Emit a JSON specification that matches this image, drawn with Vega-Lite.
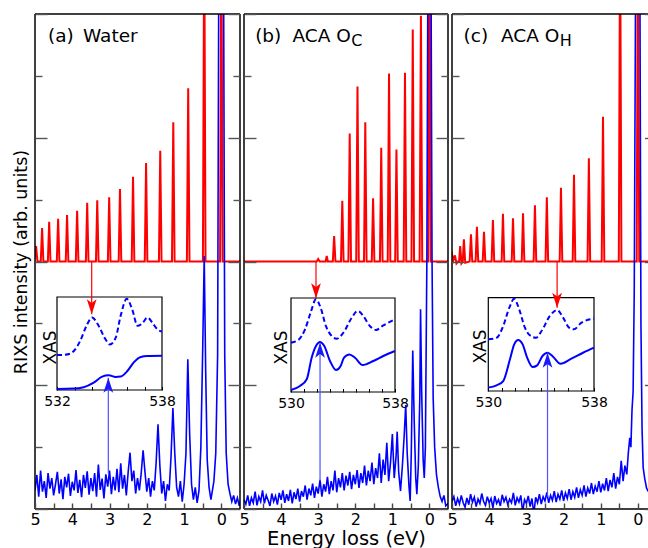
{
"$schema": "https://vega.github.io/schema/vega-lite/v6.json",
"padding": {"left": 12, "top": 13, "right": 0, "bottom": 0},
"background": "white",
"config": {"view": {"stroke": null}, "font": "DejaVu Sans", "axis": {"labelOverlap": false, "labelBound": false, "labelSeparation": 0, "labelFlush": false, "tickCount": 30}},
"datasets": {
"redA": [{"e":5.02,"v":4.0},{"e":4.97,"v":4.25},{"e":4.935,"v":4.0},{"e":4.845,"v":4.0},{"e":4.81,"v":4.54},{"e":4.775,"v":4.0},{"e":4.655,"v":4.0},{"e":4.62,"v":4.64},{"e":4.585,"v":4.0},{"e":4.415,"v":4.0},{"e":4.38,"v":4.69},{"e":4.345,"v":4.0},{"e":4.175,"v":4.0},{"e":4.14,"v":4.75},{"e":4.105,"v":4.0},{"e":3.905,"v":4.0},{"e":3.87,"v":4.82},{"e":3.835,"v":4.0},{"e":3.635,"v":4.0},{"e":3.60,"v":4.95},{"e":3.565,"v":4.0},{"e":3.365,"v":4.0},{"e":3.33,"v":4.99},{"e":3.295,"v":4.0},{"e":3.045,"v":4.0},{"e":3.01,"v":5.04},{"e":2.975,"v":4.0},{"e":2.755,"v":4.0},{"e":2.72,"v":5.17},{"e":2.685,"v":4.0},{"e":2.405,"v":4.0},{"e":2.37,"v":5.37},{"e":2.335,"v":4.0},{"e":2.055,"v":4.0},{"e":2.02,"v":5.59},{"e":1.985,"v":4.0},{"e":1.675,"v":4.0},{"e":1.64,"v":5.79},{"e":1.605,"v":4.0},{"e":1.325,"v":4.0},{"e":1.29,"v":6.25},{"e":1.255,"v":4.0},{"e":0.925,"v":4.0},{"e":0.89,"v":6.80},{"e":0.855,"v":4.0},{"e":0.495,"v":4.0},{"e":0.46,"v":9.5},{"e":0.425,"v":4.0},{"e":0.035,"v":4.0},{"e":0.0,"v":9.5},{"e":-0.035,"v":4.0},{"e":-0.6,"v":4.0}],
"redB": [{"e":5.02,"v":4.0},{"e":3.04,"v":4.0},{"e":3.0,"v":4.04},{"e":2.96,"v":4.0},{"e":2.80,"v":4.0},{"e":2.77,"v":4.09},{"e":2.74,"v":4.0},{"e":2.605,"v":4.0},{"e":2.57,"v":4.41},{"e":2.535,"v":4.0},{"e":2.385,"v":4.0},{"e":2.35,"v":4.98},{"e":2.315,"v":4.0},{"e":2.185,"v":4.0},{"e":2.15,"v":6.07},{"e":2.115,"v":4.0},{"e":1.975,"v":4.0},{"e":1.94,"v":6.83},{"e":1.905,"v":4.0},{"e":1.765,"v":4.0},{"e":1.73,"v":6.25},{"e":1.695,"v":4.0},{"e":1.555,"v":4.0},{"e":1.52,"v":5.02},{"e":1.485,"v":4.0},{"e":1.335,"v":4.0},{"e":1.30,"v":5.84},{"e":1.265,"v":4.0},{"e":1.125,"v":4.0},{"e":1.09,"v":7.04},{"e":1.055,"v":4.0},{"e":0.925,"v":4.0},{"e":0.89,"v":5.81},{"e":0.855,"v":4.0},{"e":0.695,"v":4.0},{"e":0.66,"v":7.05},{"e":0.625,"v":4.0},{"e":0.485,"v":4.0},{"e":0.45,"v":7.75},{"e":0.415,"v":4.0},{"e":0.265,"v":4.0},{"e":0.23,"v":7.97},{"e":0.195,"v":4.0},{"e":0.035,"v":4.0},{"e":0.0,"v":9.5},{"e":-0.035,"v":4.0},{"e":-0.6,"v":4.0}],
"redC": [{"e":5.02,"v":4.08},{"e":5.0,"v":4.12},{"e":4.96,"v":4.02},{"e":4.92,"v":4.1},{"e":4.88,"v":3.97},{"e":4.84,"v":4.0},{"e":4.81,"v":4.0},{"e":4.78,"v":4.25},{"e":4.745,"v":3.97},{"e":4.71,"v":4.0},{"e":4.68,"v":4.36},{"e":4.645,"v":3.98},{"e":4.525,"v":4.0},{"e":4.49,"v":4.44},{"e":4.455,"v":4.0},{"e":4.365,"v":4.0},{"e":4.33,"v":4.56},{"e":4.295,"v":4.0},{"e":4.175,"v":4.0},{"e":4.14,"v":4.48},{"e":4.105,"v":4.0},{"e":3.935,"v":4.0},{"e":3.90,"v":4.67},{"e":3.865,"v":4.0},{"e":3.665,"v":4.0},{"e":3.63,"v":4.77},{"e":3.595,"v":4.0},{"e":3.395,"v":4.0},{"e":3.36,"v":4.70},{"e":3.325,"v":4.0},{"e":3.125,"v":4.0},{"e":3.09,"v":4.78},{"e":3.055,"v":4.0},{"e":2.805,"v":4.0},{"e":2.77,"v":4.91},{"e":2.735,"v":4.0},{"e":2.485,"v":4.0},{"e":2.45,"v":5.04},{"e":2.415,"v":4.0},{"e":2.105,"v":4.0},{"e":2.07,"v":5.19},{"e":2.035,"v":4.0},{"e":1.755,"v":4.0},{"e":1.72,"v":5.40},{"e":1.685,"v":4.0},{"e":1.355,"v":4.0},{"e":1.32,"v":5.67},{"e":1.285,"v":4.0},{"e":0.975,"v":4.0},{"e":0.94,"v":6.34},{"e":0.905,"v":4.0},{"e":0.515,"v":4.0},{"e":0.48,"v":9.5},{"e":0.445,"v":4.0},{"e":0.035,"v":4.0},{"e":0.0,"v":9.5},{"e":-0.035,"v":4.0},{"e":-0.6,"v":4.0}],
"blueA": [{"e":5.0,"v":0.30},{"e":4.95,"v":0.55},{"e":4.9,"v":0.20},{"e":4.85,"v":0.62},{"e":4.8,"v":0.28},{"e":4.75,"v":0.45},{"e":4.7,"v":0.18},{"e":4.65,"v":0.58},{"e":4.6,"v":0.33},{"e":4.55,"v":0.50},{"e":4.5,"v":0.22},{"e":4.45,"v":0.40},{"e":4.4,"v":0.60},{"e":4.35,"v":0.25},{"e":4.3,"v":0.48},{"e":4.25,"v":0.16},{"e":4.2,"v":0.52},{"e":4.15,"v":0.35},{"e":4.1,"v":0.57},{"e":4.05,"v":0.21},{"e":4.0,"v":0.44},{"e":3.95,"v":0.30},{"e":3.9,"v":0.63},{"e":3.85,"v":0.26},{"e":3.8,"v":0.47},{"e":3.75,"v":0.19},{"e":3.7,"v":0.55},{"e":3.65,"v":0.34},{"e":3.6,"v":0.61},{"e":3.55,"v":0.23},{"e":3.5,"v":0.50},{"e":3.45,"v":0.29},{"e":3.4,"v":0.58},{"e":3.35,"v":0.20},{"e":3.3,"v":0.72},{"e":3.25,"v":0.31},{"e":3.2,"v":0.49},{"e":3.15,"v":0.17},{"e":3.1,"v":0.56},{"e":3.05,"v":0.36},{"e":3.0,"v":0.62},{"e":2.95,"v":0.24},{"e":2.9,"v":0.52},{"e":2.85,"v":0.30},{"e":2.8,"v":0.65},{"e":2.75,"v":0.27},{"e":2.7,"v":0.74},{"e":2.65,"v":0.33},{"e":2.6,"v":0.55},{"e":2.55,"v":0.22},{"e":2.5,"v":0.60},{"e":2.45,"v":0.91},{"e":2.4,"v":0.45},{"e":2.35,"v":0.62},{"e":2.3,"v":0.25},{"e":2.25,"v":0.50},{"e":2.2,"v":0.30},{"e":2.15,"v":0.58},{"e":2.1,"v":0.95},{"e":2.05,"v":0.60},{"e":2.0,"v":0.28},{"e":1.95,"v":0.50},{"e":1.9,"v":0.20},{"e":1.85,"v":0.45},{"e":1.8,"v":0.30},{"e":1.75,"v":0.75},{"e":1.7,"v":1.37},{"e":1.65,"v":0.70},{"e":1.6,"v":0.25},{"e":1.55,"v":0.45},{"e":1.5,"v":0.13},{"e":1.45,"v":0.40},{"e":1.4,"v":0.30},{"e":1.35,"v":0.85},{"e":1.3,"v":1.63},{"e":1.25,"v":0.90},{"e":1.2,"v":0.35},{"e":1.15,"v":0.20},{"e":1.1,"v":0.45},{"e":1.05,"v":0.12},{"e":1.0,"v":0.40},{"e":0.95,"v":0.90},{"e":0.9,"v":2.42},{"e":0.85,"v":1.20},{"e":0.8,"v":0.40},{"e":0.75,"v":0.15},{"e":0.7,"v":0.35},{"e":0.65,"v":0.10},{"e":0.6,"v":0.30},{"e":0.55,"v":1.0},{"e":0.5,"v":2.6},{"e":0.46,"v":4.09},{"e":0.42,"v":2.2},{"e":0.38,"v":0.8},{"e":0.33,"v":0.35},{"e":0.28,"v":0.15},{"e":0.24,"v":0.30},{"e":0.2,"v":0.45},{"e":0.15,"v":0.9},{"e":0.1,"v":2.5},{"e":0.07,"v":8.5},{"e":0.03,"v":12},{"e":0.0,"v":15},{"e":-0.03,"v":12},{"e":-0.06,"v":8.5},{"e":-0.09,"v":2.5},{"e":-0.13,"v":0.9},{"e":-0.18,"v":0.4},{"e":-0.23,"v":0.25},{"e":-0.28,"v":0.12},{"e":-0.33,"v":0.22},{"e":-0.38,"v":0.08},{"e":-0.43,"v":0.18},{"e":-0.48,"v":0.05},{"e":-0.52,"v":0.15}],
"blueB": [{"e":5.0,"v":0.15},{"e":4.95,"v":0.08},{"e":4.9,"v":0.22},{"e":4.85,"v":0.05},{"e":4.8,"v":0.18},{"e":4.75,"v":0.10},{"e":4.7,"v":0.28},{"e":4.65,"v":0.06},{"e":4.6,"v":0.20},{"e":4.55,"v":0.12},{"e":4.5,"v":0.30},{"e":4.45,"v":0.09},{"e":4.4,"v":0.22},{"e":4.35,"v":0.14},{"e":4.3,"v":0.05},{"e":4.25,"v":0.25},{"e":4.2,"v":0.12},{"e":4.15,"v":0.21},{"e":4.1,"v":0.07},{"e":4.05,"v":0.26},{"e":4.0,"v":0.15},{"e":3.95,"v":0.30},{"e":3.9,"v":0.10},{"e":3.85,"v":0.24},{"e":3.8,"v":0.13},{"e":3.75,"v":0.31},{"e":3.7,"v":0.09},{"e":3.65,"v":0.27},{"e":3.6,"v":0.16},{"e":3.55,"v":0.33},{"e":3.5,"v":0.12},{"e":3.45,"v":0.29},{"e":3.4,"v":0.20},{"e":3.35,"v":0.38},{"e":3.3,"v":0.15},{"e":3.25,"v":0.33},{"e":3.2,"v":0.22},{"e":3.15,"v":0.41},{"e":3.1,"v":0.18},{"e":3.05,"v":0.36},{"e":3.0,"v":0.25},{"e":2.95,"v":0.47},{"e":2.9,"v":0.20},{"e":2.85,"v":0.40},{"e":2.8,"v":0.28},{"e":2.75,"v":0.52},{"e":2.7,"v":0.24},{"e":2.65,"v":0.45},{"e":2.6,"v":0.30},{"e":2.55,"v":0.62},{"e":2.5,"v":0.27},{"e":2.45,"v":0.50},{"e":2.4,"v":0.35},{"e":2.35,"v":0.58},{"e":2.3,"v":0.30},{"e":2.25,"v":0.54},{"e":2.2,"v":0.38},{"e":2.15,"v":0.60},{"e":2.1,"v":0.32},{"e":2.05,"v":0.55},{"e":2.0,"v":0.40},{"e":1.95,"v":0.63},{"e":1.9,"v":0.34},{"e":1.85,"v":0.58},{"e":1.8,"v":0.42},{"e":1.75,"v":0.70},{"e":1.7,"v":0.38},{"e":1.65,"v":0.62},{"e":1.6,"v":0.45},{"e":1.55,"v":0.75},{"e":1.5,"v":0.40},{"e":1.45,"v":0.66},{"e":1.4,"v":0.50},{"e":1.35,"v":0.90},{"e":1.3,"v":0.42},{"e":1.25,"v":0.80},{"e":1.2,"v":0.55},{"e":1.15,"v":1.07},{"e":1.1,"v":0.45},{"e":1.05,"v":0.75},{"e":1.0,"v":1.21},{"e":0.95,"v":0.50},{"e":0.9,"v":0.85},{"e":0.87,"v":1.25},{"e":0.83,"v":0.60},{"e":0.78,"v":0.29},{"e":0.73,"v":0.70},{"e":0.68,"v":1.20},{"e":0.64,"v":1.68},{"e":0.6,"v":0.90},{"e":0.55,"v":0.35},{"e":0.52,"v":0.13},{"e":0.49,"v":0.90},{"e":0.45,"v":2.56},{"e":0.41,"v":1.40},{"e":0.37,"v":0.50},{"e":0.34,"v":0.24},{"e":0.3,"v":0.70},{"e":0.26,"v":1.80},{"e":0.24,"v":3.23},{"e":0.21,"v":1.90},{"e":0.17,"v":0.80},{"e":0.14,"v":0.50},{"e":0.11,"v":1.0},{"e":0.07,"v":4.0},{"e":0.04,"v":9.0},{"e":0.0,"v":15},{"e":-0.04,"v":9.0},{"e":-0.07,"v":4.0},{"e":-0.1,"v":1.8},{"e":-0.14,"v":1.0},{"e":-0.19,"v":0.55},{"e":-0.24,"v":0.35},{"e":-0.29,"v":0.20},{"e":-0.34,"v":0.12},{"e":-0.39,"v":0.22},{"e":-0.44,"v":0.05},{"e":-0.52,"v":0.10}],
"blueC": [{"e":5.0,"v":0.12},{"e":4.95,"v":0.20},{"e":4.9,"v":0.05},{"e":4.85,"v":0.17},{"e":4.8,"v":0.08},{"e":4.75,"v":0.22},{"e":4.7,"v":0.10},{"e":4.65,"v":0.03},{"e":4.6,"v":0.18},{"e":4.55,"v":0.07},{"e":4.5,"v":0.24},{"e":4.45,"v":0.11},{"e":4.4,"v":0.19},{"e":4.35,"v":0.04},{"e":4.3,"v":0.16},{"e":4.25,"v":0.09},{"e":4.2,"v":0.25},{"e":4.15,"v":0.12},{"e":4.1,"v":0.06},{"e":4.05,"v":0.20},{"e":4.0,"v":0.10},{"e":3.95,"v":0.17},{"e":3.9,"v":0.02},{"e":3.85,"v":0.21},{"e":3.8,"v":0.09},{"e":3.75,"v":0.15},{"e":3.7,"v":0.05},{"e":3.65,"v":0.23},{"e":3.6,"v":0.12},{"e":3.55,"v":0.19},{"e":3.5,"v":0.07},{"e":3.45,"v":0.16},{"e":3.4,"v":0.10},{"e":3.35,"v":0.26},{"e":3.3,"v":0.06},{"e":3.25,"v":0.18},{"e":3.2,"v":0.11},{"e":3.15,"v":0.22},{"e":3.1,"v":-0.05},{"e":3.05,"v":0.15},{"e":3.0,"v":0.09},{"e":2.95,"v":0.21},{"e":2.9,"v":0.04},{"e":2.85,"v":0.17},{"e":2.8,"v":-0.08},{"e":2.75,"v":0.19},{"e":2.7,"v":0.10},{"e":2.65,"v":0.24},{"e":2.6,"v":0.08},{"e":2.55,"v":0.20},{"e":2.5,"v":0.13},{"e":2.45,"v":0.27},{"e":2.4,"v":0.10},{"e":2.35,"v":0.22},{"e":2.3,"v":0.14},{"e":2.25,"v":0.29},{"e":2.2,"v":0.11},{"e":2.15,"v":0.24},{"e":2.1,"v":0.16},{"e":2.05,"v":0.30},{"e":2.0,"v":0.13},{"e":1.95,"v":0.26},{"e":1.9,"v":0.17},{"e":1.85,"v":0.32},{"e":1.8,"v":0.15},{"e":1.75,"v":0.28},{"e":1.7,"v":0.19},{"e":1.65,"v":0.35},{"e":1.6,"v":0.18},{"e":1.55,"v":0.31},{"e":1.5,"v":0.22},{"e":1.45,"v":0.38},{"e":1.4,"v":0.20},{"e":1.35,"v":0.34},{"e":1.3,"v":0.25},{"e":1.25,"v":0.42},{"e":1.2,"v":0.24},{"e":1.15,"v":0.37},{"e":1.1,"v":0.28},{"e":1.05,"v":0.45},{"e":1.0,"v":0.27},{"e":0.95,"v":0.41},{"e":0.9,"v":0.30},{"e":0.85,"v":0.50},{"e":0.8,"v":0.29},{"e":0.75,"v":0.47},{"e":0.7,"v":0.35},{"e":0.65,"v":0.58},{"e":0.6,"v":0.33},{"e":0.55,"v":0.52},{"e":0.5,"v":0.40},{"e":0.45,"v":0.78},{"e":0.4,"v":0.45},{"e":0.35,"v":0.70},{"e":0.3,"v":0.56},{"e":0.26,"v":0.90},{"e":0.22,"v":1.15},{"e":0.19,"v":1.0},{"e":0.16,"v":1.60},{"e":0.13,"v":1.90},{"e":0.1,"v":3.5},{"e":0.06,"v":9},{"e":0.0,"v":15},{"e":-0.05,"v":9},{"e":-0.08,"v":3.0},{"e":-0.11,"v":1.3},{"e":-0.14,"v":0.67},{"e":-0.18,"v":0.50},{"e":-0.23,"v":0.34},{"e":-0.28,"v":0.28}],
"xasA": [{"t":"d","E":532.0,"v":0.376},{"t":"d","E":532.4,"v":0.378},{"t":"d","E":532.75,"v":0.39},{"t":"d","E":533.05,"v":0.44},{"t":"d","E":533.33,"v":0.53},{"t":"d","E":533.71,"v":0.70},{"t":"d","E":534.0,"v":0.78},{"t":"d","E":534.38,"v":0.69},{"t":"d","E":534.77,"v":0.545},{"t":"d","E":535.02,"v":0.49},{"t":"d","E":535.35,"v":0.56},{"t":"d","E":535.64,"v":0.80},{"t":"d","E":535.98,"v":0.98},{"t":"d","E":536.31,"v":0.86},{"t":"d","E":536.6,"v":0.69},{"t":"d","E":536.89,"v":0.72},{"t":"d","E":537.17,"v":0.78},{"t":"d","E":537.46,"v":0.72},{"t":"d","E":537.75,"v":0.65},{"t":"d","E":538.0,"v":0.63},
{"t":"s","E":532.0,"v":0.012},{"t":"s","E":532.94,"v":0.015},{"t":"s","E":533.52,"v":0.03},{"t":"s","E":534.1,"v":0.08},{"t":"s","E":534.58,"v":0.143},{"t":"s","E":534.96,"v":0.158},{"t":"s","E":535.35,"v":0.14},{"t":"s","E":535.64,"v":0.145},{"t":"s","E":536.02,"v":0.204},{"t":"s","E":536.4,"v":0.30},{"t":"s","E":536.79,"v":0.355},{"t":"s","E":537.17,"v":0.366},{"t":"s","E":538.0,"v":0.369}],
"xasB": [{"t":"d","E":530.0,"v":0.525},{"t":"d","E":530.56,"v":0.553},{"t":"d","E":531.08,"v":0.667},{"t":"d","E":531.51,"v":0.844},{"t":"d","E":531.92,"v":0.986},{"t":"d","E":532.28,"v":0.897},{"t":"d","E":532.69,"v":0.70},{"t":"d","E":533.13,"v":0.596},{"t":"d","E":533.51,"v":0.567},{"t":"d","E":534.03,"v":0.631},{"t":"d","E":534.67,"v":0.79},{"t":"d","E":535.13,"v":0.862},{"t":"d","E":535.56,"v":0.809},{"t":"d","E":536.08,"v":0.70},{"t":"d","E":536.54,"v":0.66},{"t":"d","E":537.1,"v":0.709},{"t":"d","E":538.0,"v":0.773},
{"t":"s","E":530.0,"v":0.021},{"t":"s","E":530.69,"v":0.064},{"t":"s","E":531.21,"v":0.135},{"t":"s","E":531.59,"v":0.365},{"t":"s","E":531.92,"v":0.489},{"t":"s","E":532.23,"v":0.532},{"t":"s","E":532.56,"v":0.489},{"t":"s","E":533.0,"v":0.33},{"t":"s","E":533.46,"v":0.234},{"t":"s","E":533.82,"v":0.277},{"t":"s","E":534.08,"v":0.365},{"t":"s","E":534.49,"v":0.40},{"t":"s","E":534.92,"v":0.365},{"t":"s","E":535.51,"v":0.287},{"t":"s","E":536.33,"v":0.33},{"t":"s","E":537.1,"v":0.383},{"t":"s","E":538.0,"v":0.436}],
"xasC": [{"t":"d","E":530.0,"v":0.554},{"t":"d","E":530.63,"v":0.571},{"t":"d","E":531.13,"v":0.697},{"t":"d","E":531.59,"v":0.893},{"t":"d","E":531.96,"v":0.989},{"t":"d","E":532.34,"v":0.875},{"t":"d","E":532.77,"v":0.679},{"t":"d","E":533.15,"v":0.597},{"t":"d","E":533.6,"v":0.571},{"t":"d","E":534.03,"v":0.643},{"t":"d","E":534.66,"v":0.804},{"t":"d","E":535.21,"v":0.868},{"t":"d","E":535.66,"v":0.786},{"t":"d","E":536.11,"v":0.679},{"t":"d","E":536.47,"v":0.661},{"t":"d","E":537.05,"v":0.732},{"t":"d","E":538.0,"v":0.775},
{"t":"s","E":530.0,"v":0.036},{"t":"s","E":530.63,"v":0.061},{"t":"s","E":531.13,"v":0.107},{"t":"s","E":531.64,"v":0.34},{"t":"s","E":531.96,"v":0.50},{"t":"s","E":532.26,"v":0.547},{"t":"s","E":532.6,"v":0.50},{"t":"s","E":532.94,"v":0.357},{"t":"s","E":533.35,"v":0.257},{"t":"s","E":533.7,"v":0.275},{"t":"s","E":534.1,"v":0.375},{"t":"s","E":534.48,"v":0.41},{"t":"s","E":534.9,"v":0.368},{"t":"s","E":535.46,"v":0.293},{"t":"s","E":536.29,"v":0.346},{"t":"s","E":537.17,"v":0.41},{"t":"s","E":538.0,"v":0.464}],
"redArrows": [{"p":"a","e":3.479,"v1":4.0,"v2":3.147},{"p":"b","e":3.059,"v1":4.0,"v2":3.405},{"p":"c","e":2.174,"v1":4.0,"v2":3.253}],
"blueArrows": [{"p":"a","e":3.033,"v1":0.57,"v2":2.12},{"p":"b","e":2.95,"v1":0.45,"v2":2.688},{"p":"c","e":2.432,"v1":0.2,"v2":2.526}]
},
"spacing": 4,
"bounds": "flush",
"hconcat": [
{
"width": 205, "height": 495,
"resolve": {"scale": {"x": "independent", "y": "independent"}},
"layer": [
{"layer": [
 {"data": {"name": "redA"}, "mark": {"type": "line", "color": "#ff0000", "strokeWidth": 2, "clip": true},
  "encoding": {
   "x": {"field": "e", "type": "quantitative", "scale": {"domain": [-0.5, 5], "reverse": true, "nice": false, "zero": false},
    "axis": {"values": [5,4,3,2,1,0], "tickCount": 30, "format": "d", "tickSize": -6, "tickColor": "#444", "tickWidth": 1.4, "domain": false, "grid": false, "labelFont": "DejaVu Sans", "labelFontSize": 16, "labelColor": "#000", "labelPadding": 8.5, "labelFlush": false, "labelOverlap": false, "labelBound": false, "title": null, "zindex": 1}},
   "y": {"field": "v", "type": "quantitative", "scale": {"domain": [0, 8], "nice": false, "zero": false},
    "axis": {"values": [0,1,2,3,4,5,6,7,8], "tickCount": 30, "labels": false, "domain": false, "grid": false, "tickSize": {"condition": {"test": "datum.value % 2 === 0", "value": -12}, "value": -7}, "tickColor": "#555", "tickWidth": 1.4, "zindex": 1, "minExtent": 0, "maxExtent": 0,
     "title": "RIXS intensity (arb. units)", "titleFont": "DejaVu Sans", "titleFontSize": 17.5, "titleFontWeight": "normal", "titleColor": "#000", "titleX": -14, "titleY": 247.5, "titleAngle": -90, "titleAlign": "center", "titleBaseline": "middle"}}
  }},
 {"data": {"name": "blueA"}, "mark": {"type": "line", "color": "#0000ff", "strokeWidth": 1.6, "clip": true},
  "encoding": {"x": {"field": "e", "type": "quantitative"}, "y": {"field": "v", "type": "quantitative"}}}
]},
{"layer": [
 {"data": {"values": [{}]}, "mark": {"type": "rect", "fill": "transparent", "stroke": "#000", "strokeWidth": 1.2},
  "encoding": {"x": {"datum": 532}, "x2": {"datum": 538}, "y": {"datum": 0}, "y2": {"datum": 1}}},
 {"data": {"name": "xasA"}, "transform": [{"filter": "datum.t === 'd'"}], "mark": {"type": "line", "color": "#0000ff", "strokeWidth": 2, "strokeDash": [5, 3], "interpolate": "monotone"},
  "encoding": {
   "x": {"field": "E", "type": "quantitative", "scale": {"domain": [532, 538], "range": [22, 127], "nice": false, "zero": false},
    "axis": {"orient": "bottom", "offset": -119, "values": [532,533,534,535,536,537,538], "tickCount": 30, "format": "d", "labelExpr": "datum.value === 532 || datum.value === 538 ? datum.label : ''", "tickSize": -3.5, "tickColor": "#000", "tickWidth": 1, "domain": false, "grid": false, "labelFont": "DejaVu Sans", "labelFontSize": 14, "labelColor": "#000", "labelPadding": 7.5, "labelFlush": false, "labelOverlap": false, "title": null}},
   "y": {"field": "v", "type": "quantitative", "scale": {"domain": [0, 1], "range": [376, 283], "nice": false, "zero": false},
    "axis": {"orient": "left", "offset": -22, "ticks": false, "labels": false, "domain": false, "grid": false, "minExtent": 0, "maxExtent": 0, "title": "XAS", "titleFont": "DejaVu Sans", "titleFontSize": 17, "titleFontWeight": "normal", "titleColor": "#000", "titleX": -6.5, "titleY": 333, "titleAngle": -90, "titleAlign": "center", "titleBaseline": "middle"}}
  }},
 {"data": {"name": "xasA"}, "transform": [{"filter": "datum.t === 's'"}], "mark": {"type": "line", "color": "#0000ff", "strokeWidth": 2, "interpolate": "monotone"},
  "encoding": {"x": {"field": "E", "type": "quantitative"}, "y": {"field": "v", "type": "quantitative"}}}
]},
{"layer": [
 {"data": {"name": "redArrows"}, "transform": [{"filter": "datum.p === 'a'"}], "mark": {"type": "rule", "color": "#ff0000", "strokeWidth": 1.2},
  "encoding": {
   "x": {"field": "e", "type": "quantitative", "scale": {"domain": [-0.5, 5], "reverse": true, "nice": false, "zero": false},
    "axis": {"orient": "bottom", "values": [4.5,3.5,2.5,1.5,0.5], "tickCount": 30, "labels": false, "tickSize": -6, "tickColor": "#444", "tickWidth": 1.4, "domain": false, "grid": false, "title": null, "zindex": 1}},
   "y": {"field": "v1", "type": "quantitative", "scale": {"domain": [0, 8], "nice": false, "zero": false},
    "axis": {"orient": "right", "values": [0,1,2,3,4,5,6,7,8], "tickCount": 30, "labels": false, "domain": false, "grid": false, "tickSize": {"condition": {"test": "datum.value % 2 === 0", "value": -12}, "value": -7}, "tickColor": "#555", "tickWidth": 1.4, "zindex": 1, "minExtent": 0, "maxExtent": 0, "title": null}},
   "y2": {"field": "v2"}}},
 {"data": {"name": "redArrows"}, "transform": [{"filter": "datum.p === 'a'"}], "mark": {"type": "point", "shape": "M0,0L-0.65,-2L0,-1.5L0.65,-2Z", "size": 225, "filled": true, "color": "#ff0000", "opacity": 1, "strokeWidth": 0},
  "encoding": {"x": {"field": "e", "type": "quantitative"}, "y": {"field": "v2", "type": "quantitative"}}},
 {"data": {"name": "blueArrows"}, "transform": [{"filter": "datum.p === 'a'"}], "mark": {"type": "rule", "color": "#5050ff", "strokeWidth": 1.2},
  "encoding": {"x": {"field": "e", "type": "quantitative"}, "y": {"field": "v1", "type": "quantitative"}, "y2": {"field": "v2"}}},
 {"data": {"name": "blueArrows"}, "transform": [{"filter": "datum.p === 'a'"}], "mark": {"type": "point", "shape": "M0,0L-0.65,2L0,1.5L0.65,2Z", "size": 225, "filled": true, "color": "#1a1aff", "opacity": 1, "strokeWidth": 0},
  "encoding": {"x": {"field": "e", "type": "quantitative"}, "y": {"field": "v2", "type": "quantitative"}}},
 {"data": {"values": [{}]}, "mark": {"type": "rule", "color": "#000", "strokeWidth": 1.5}, "encoding": {"x": {"datum": 5}}},
 {"data": {"values": [{}]}, "mark": {"type": "rule", "color": "#000", "strokeWidth": 1.5}, "encoding": {"x": {"datum": -0.5}}},
 {"data": {"values": [{}]}, "mark": {"type": "rule", "color": "#000", "strokeWidth": 1.5}, "encoding": {"y": {"datum": 8}}},
 {"data": {"values": [{}]}, "mark": {"type": "rule", "color": "#000", "strokeWidth": 1.5}, "encoding": {"y": {"datum": 0}}},
 {"data": {"values": [{}]}, "mark": {"type": "text", "text": "(a)", "font": "DejaVu Sans", "fontSize": 18.5, "align": "left", "baseline": "alphabetic", "color": "#000"}, "encoding": {"x": {"datum": 4.651}, "y": {"datum": 7.547}}},
 {"data": {"values": [{}]}, "mark": {"type": "text", "text": "Water", "font": "DejaVu Sans", "fontSize": 18.5, "align": "left", "baseline": "alphabetic", "color": "#000"}, "encoding": {"x": {"datum": 3.712}, "y": {"datum": 7.547}}}
]}
]
},
{
"width": 204, "height": 495,
"resolve": {"scale": {"x": "independent", "y": "independent"}},
"layer": [
{"layer": [
 {"data": {"name": "redB"}, "mark": {"type": "line", "color": "#ff0000", "strokeWidth": 2, "clip": true},
  "encoding": {
   "x": {"field": "e", "type": "quantitative", "scale": {"domain": [-0.5, 5], "reverse": true, "nice": false, "zero": false},
    "axis": {"values": [5,4,3,2,1,0], "tickCount": 30, "format": "d", "tickSize": -6, "tickColor": "#444", "tickWidth": 1.4, "domain": false, "grid": false, "labelFont": "DejaVu Sans", "labelFontSize": 16, "labelColor": "#000", "labelPadding": 8.5, "labelFlush": false, "labelOverlap": false, "labelBound": false, "zindex": 1,
     "title": "Energy loss (eV)", "titleFont": "DejaVu Sans", "titleFontSize": 19.5, "titleFontWeight": "normal", "titleColor": "#000", "titlePadding": 1.5}},
   "y": {"field": "v", "type": "quantitative", "scale": {"domain": [0, 8], "nice": false, "zero": false},
    "axis": {"values": [0,1,2,3,4,5,6,7,8], "tickCount": 30, "labels": false, "domain": false, "grid": false, "tickSize": {"condition": {"test": "datum.value % 2 === 0", "value": -12}, "value": -7}, "tickColor": "#555", "tickWidth": 1.4, "zindex": 1, "minExtent": 0, "maxExtent": 0, "title": null}}
  }},
 {"data": {"name": "blueB"}, "mark": {"type": "line", "color": "#0000ff", "strokeWidth": 1.6, "clip": true},
  "encoding": {"x": {"field": "e", "type": "quantitative"}, "y": {"field": "v", "type": "quantitative"}}}
]},
{"layer": [
 {"data": {"values": [{}]}, "mark": {"type": "rect", "fill": "transparent", "stroke": "#000", "strokeWidth": 1.2},
  "encoding": {"x": {"datum": 530}, "x2": {"datum": 538}, "y": {"datum": 0}, "y2": {"datum": 1}}},
 {"data": {"name": "xasB"}, "transform": [{"filter": "datum.t === 'd'"}], "mark": {"type": "line", "color": "#0000ff", "strokeWidth": 2, "strokeDash": [5, 3], "interpolate": "monotone"},
  "encoding": {
   "x": {"field": "E", "type": "quantitative", "scale": {"domain": [530, 538], "range": [47, 151], "nice": false, "zero": false},
    "axis": {"orient": "bottom", "offset": -117, "values": [530,531,532,533,534,535,536,537,538], "tickCount": 30, "format": "d", "labelExpr": "datum.value === 530 || datum.value === 538 ? datum.label : ''", "tickSize": -3.5, "tickColor": "#000", "tickWidth": 1, "domain": false, "grid": false, "labelFont": "DejaVu Sans", "labelFontSize": 14, "labelColor": "#000", "labelPadding": 7.5, "labelFlush": false, "labelOverlap": false, "title": null}},
   "y": {"field": "v", "type": "quantitative", "scale": {"domain": [0, 1], "range": [378, 284], "nice": false, "zero": false},
    "axis": {"orient": "left", "offset": -47, "ticks": false, "labels": false, "domain": false, "grid": false, "minExtent": 0, "maxExtent": 0, "title": "XAS", "titleFont": "DejaVu Sans", "titleFontSize": 17, "titleFontWeight": "normal", "titleColor": "#000", "titleX": -10, "titleY": 333, "titleAngle": -90, "titleAlign": "center", "titleBaseline": "middle"}}
  }},
 {"data": {"name": "xasB"}, "transform": [{"filter": "datum.t === 's'"}], "mark": {"type": "line", "color": "#0000ff", "strokeWidth": 2, "interpolate": "monotone"},
  "encoding": {"x": {"field": "E", "type": "quantitative"}, "y": {"field": "v", "type": "quantitative"}}}
]},
{"layer": [
 {"data": {"name": "redArrows"}, "transform": [{"filter": "datum.p === 'b'"}], "mark": {"type": "rule", "color": "#ff0000", "strokeWidth": 1.2},
  "encoding": {
   "x": {"field": "e", "type": "quantitative", "scale": {"domain": [-0.5, 5], "reverse": true, "nice": false, "zero": false},
    "axis": {"orient": "bottom", "values": [4.5,3.5,2.5,1.5,0.5], "tickCount": 30, "labels": false, "tickSize": -6, "tickColor": "#444", "tickWidth": 1.4, "domain": false, "grid": false, "title": null, "zindex": 1}},
   "y": {"field": "v1", "type": "quantitative", "scale": {"domain": [0, 8], "nice": false, "zero": false},
    "axis": {"orient": "right", "values": [0,1,2,3,4,5,6,7,8], "tickCount": 30, "labels": false, "domain": false, "grid": false, "tickSize": {"condition": {"test": "datum.value % 2 === 0", "value": -12}, "value": -7}, "tickColor": "#555", "tickWidth": 1.4, "zindex": 1, "minExtent": 0, "maxExtent": 0, "title": null}},
   "y2": {"field": "v2"}}},
 {"data": {"name": "redArrows"}, "transform": [{"filter": "datum.p === 'b'"}], "mark": {"type": "point", "shape": "M0,0L-0.65,-2L0,-1.5L0.65,-2Z", "size": 225, "filled": true, "color": "#ff0000", "opacity": 1, "strokeWidth": 0},
  "encoding": {"x": {"field": "e", "type": "quantitative"}, "y": {"field": "v2", "type": "quantitative"}}},
 {"data": {"name": "blueArrows"}, "transform": [{"filter": "datum.p === 'b'"}], "mark": {"type": "rule", "color": "#5050ff", "strokeWidth": 1.2},
  "encoding": {"x": {"field": "e", "type": "quantitative"}, "y": {"field": "v1", "type": "quantitative"}, "y2": {"field": "v2"}}},
 {"data": {"name": "blueArrows"}, "transform": [{"filter": "datum.p === 'b'"}], "mark": {"type": "point", "shape": "M0,0L-0.65,2L0,1.5L0.65,2Z", "size": 225, "filled": true, "color": "#1a1aff", "opacity": 1, "strokeWidth": 0},
  "encoding": {"x": {"field": "e", "type": "quantitative"}, "y": {"field": "v2", "type": "quantitative"}}},
 {"data": {"values": [{}]}, "mark": {"type": "rule", "color": "#000", "strokeWidth": 1.5}, "encoding": {"x": {"datum": 5}}},
 {"data": {"values": [{}]}, "mark": {"type": "rule", "color": "#000", "strokeWidth": 1.5}, "encoding": {"x": {"datum": -0.5}}},
 {"data": {"values": [{}]}, "mark": {"type": "rule", "color": "#000", "strokeWidth": 1.5}, "encoding": {"y": {"datum": 8}}},
 {"data": {"values": [{}]}, "mark": {"type": "rule", "color": "#000", "strokeWidth": 1.5}, "encoding": {"y": {"datum": 0}}},
 {"data": {"values": [{}]}, "mark": {"type": "text", "text": "(b)", "font": "DejaVu Sans", "fontSize": 18.5, "align": "left", "baseline": "alphabetic", "color": "#000"}, "encoding": {"x": {"datum": 4.70}, "y": {"datum": 7.547}}},
 {"data": {"values": [{}]}, "mark": {"type": "text", "text": "ACA O", "font": "DejaVu Sans", "fontSize": 18.5, "align": "left", "baseline": "alphabetic", "color": "#000"}, "encoding": {"x": {"datum": 3.693}, "y": {"datum": 7.547}}},
 {"data": {"values": [{}]}, "mark": {"type": "text", "text": "C", "font": "DejaVu Sans", "fontSize": 16, "align": "left", "baseline": "alphabetic", "color": "#000"}, "encoding": {"x": {"datum": 2.11}, "y": {"datum": 7.475}}}
]}
]
},
{
"width": 196, "height": 495,
"resolve": {"scale": {"x": "independent", "y": "independent"}},
"layer": [
{"layer": [
 {"data": {"name": "redC"}, "mark": {"type": "line", "color": "#ff0000", "strokeWidth": 2, "clip": true},
  "encoding": {
   "x": {"field": "e", "type": "quantitative", "scale": {"domain": [-0.27, 5], "reverse": true, "nice": false, "zero": false},
    "axis": {"values": [5,4,3,2,1,0], "tickCount": 30, "format": "d", "tickSize": -6, "tickColor": "#444", "tickWidth": 1.4, "domain": false, "grid": false, "labelFont": "DejaVu Sans", "labelFontSize": 16, "labelColor": "#000", "labelPadding": 8.5, "labelFlush": false, "labelOverlap": false, "labelBound": false, "title": null, "zindex": 1}},
   "y": {"field": "v", "type": "quantitative", "scale": {"domain": [0, 8], "nice": false, "zero": false},
    "axis": {"values": [0,1,2,3,4,5,6,7,8], "tickCount": 30, "labels": false, "domain": false, "grid": false, "tickSize": {"condition": {"test": "datum.value % 2 === 0", "value": -12}, "value": -7}, "tickColor": "#555", "tickWidth": 1.4, "zindex": 1, "minExtent": 0, "maxExtent": 0, "title": null}}
  }},
 {"data": {"name": "blueC"}, "mark": {"type": "line", "color": "#0000ff", "strokeWidth": 1.6, "clip": true},
  "encoding": {"x": {"field": "e", "type": "quantitative"}, "y": {"field": "v", "type": "quantitative"}}}
]},
{"layer": [
 {"data": {"values": [{}]}, "mark": {"type": "rect", "fill": "transparent", "stroke": "#000", "strokeWidth": 1.2},
  "encoding": {"x": {"datum": 530}, "x2": {"datum": 538}, "y": {"datum": 0}, "y2": {"datum": 1}}},
 {"data": {"name": "xasC"}, "transform": [{"filter": "datum.t === 'd'"}], "mark": {"type": "line", "color": "#0000ff", "strokeWidth": 2, "strokeDash": [5, 3], "interpolate": "monotone"},
  "encoding": {
   "x": {"field": "E", "type": "quantitative", "scale": {"domain": [530, 538], "range": [36.3, 142], "nice": false, "zero": false},
    "axis": {"orient": "bottom", "offset": -118, "values": [530,531,532,533,534,535,536,537,538], "tickCount": 30, "format": "d", "labelExpr": "datum.value === 530 || datum.value === 538 ? datum.label : ''", "tickSize": -3.5, "tickColor": "#000", "tickWidth": 1, "domain": false, "grid": false, "labelFont": "DejaVu Sans", "labelFontSize": 14, "labelColor": "#000", "labelPadding": 7.5, "labelFlush": false, "labelOverlap": false, "title": null}},
   "y": {"field": "v", "type": "quantitative", "scale": {"domain": [0, 1], "range": [377, 283.7], "nice": false, "zero": false},
    "axis": {"orient": "left", "offset": -36.3, "ticks": false, "labels": false, "domain": false, "grid": false, "minExtent": 0, "maxExtent": 0, "title": "XAS", "titleFont": "DejaVu Sans", "titleFontSize": 17, "titleFontWeight": "normal", "titleColor": "#000", "titleX": -7.5, "titleY": 332, "titleAngle": -90, "titleAlign": "center", "titleBaseline": "middle"}}
  }},
 {"data": {"name": "xasC"}, "transform": [{"filter": "datum.t === 's'"}], "mark": {"type": "line", "color": "#0000ff", "strokeWidth": 2, "interpolate": "monotone"},
  "encoding": {"x": {"field": "E", "type": "quantitative"}, "y": {"field": "v", "type": "quantitative"}}}
]},
{"layer": [
 {"data": {"name": "redArrows"}, "transform": [{"filter": "datum.p === 'c'"}], "mark": {"type": "rule", "color": "#ff0000", "strokeWidth": 1.2},
  "encoding": {
   "x": {"field": "e", "type": "quantitative", "scale": {"domain": [-0.27, 5], "reverse": true, "nice": false, "zero": false},
    "axis": {"orient": "bottom", "values": [4.5,3.5,2.5,1.5,0.5], "tickCount": 30, "labels": false, "tickSize": -6, "tickColor": "#444", "tickWidth": 1.4, "domain": false, "grid": false, "title": null, "zindex": 1}},
   "y": {"field": "v1", "type": "quantitative", "scale": {"domain": [0, 8], "nice": false, "zero": false},
    "axis": {"orient": "right", "values": [0,2,4,6,8], "tickCount": 30, "labels": false, "domain": false, "grid": false, "tickSize": -3.5, "tickColor": "#555", "tickWidth": 1.4, "zindex": 1, "minExtent": 0, "maxExtent": 0, "title": null}},
   "y2": {"field": "v2"}}},
 {"data": {"name": "redArrows"}, "transform": [{"filter": "datum.p === 'c'"}], "mark": {"type": "point", "shape": "M0,0L-0.65,-2L0,-1.5L0.65,-2Z", "size": 225, "filled": true, "color": "#ff0000", "opacity": 1, "strokeWidth": 0},
  "encoding": {"x": {"field": "e", "type": "quantitative"}, "y": {"field": "v2", "type": "quantitative"}}},
 {"data": {"name": "blueArrows"}, "transform": [{"filter": "datum.p === 'c'"}], "mark": {"type": "rule", "color": "#5050ff", "strokeWidth": 1.2},
  "encoding": {"x": {"field": "e", "type": "quantitative"}, "y": {"field": "v1", "type": "quantitative"}, "y2": {"field": "v2"}}},
 {"data": {"name": "blueArrows"}, "transform": [{"filter": "datum.p === 'c'"}], "mark": {"type": "point", "shape": "M0,0L-0.65,2L0,1.5L0.65,2Z", "size": 225, "filled": true, "color": "#1a1aff", "opacity": 1, "strokeWidth": 0},
  "encoding": {"x": {"field": "e", "type": "quantitative"}, "y": {"field": "v2", "type": "quantitative"}}},
 {"data": {"values": [{}]}, "mark": {"type": "rule", "color": "#000", "strokeWidth": 1.5}, "encoding": {"x": {"datum": 5}}},
 {"data": {"values": [{}]}, "mark": {"type": "rule", "color": "#000", "strokeWidth": 1.5}, "encoding": {"y": {"datum": 8}}},
 {"data": {"values": [{}]}, "mark": {"type": "rule", "color": "#000", "strokeWidth": 1.5}, "encoding": {"y": {"datum": 0}}},
 {"data": {"values": [{}]}, "mark": {"type": "text", "text": "(c)", "font": "DejaVu Sans", "fontSize": 18.5, "align": "left", "baseline": "alphabetic", "color": "#000"}, "encoding": {"x": {"datum": 4.69}, "y": {"datum": 7.547}}},
 {"data": {"values": [{}]}, "mark": {"type": "text", "text": "ACA O", "font": "DejaVu Sans", "fontSize": 18.5, "align": "left", "baseline": "alphabetic", "color": "#000"}, "encoding": {"x": {"datum": 3.682}, "y": {"datum": 7.547}}},
 {"data": {"values": [{}]}, "mark": {"type": "text", "text": "H", "font": "DejaVu Sans", "fontSize": 16, "align": "left", "baseline": "alphabetic", "color": "#000"}, "encoding": {"x": {"datum": 2.104}, "y": {"datum": 7.475}}}
]}
]
}
]
}
